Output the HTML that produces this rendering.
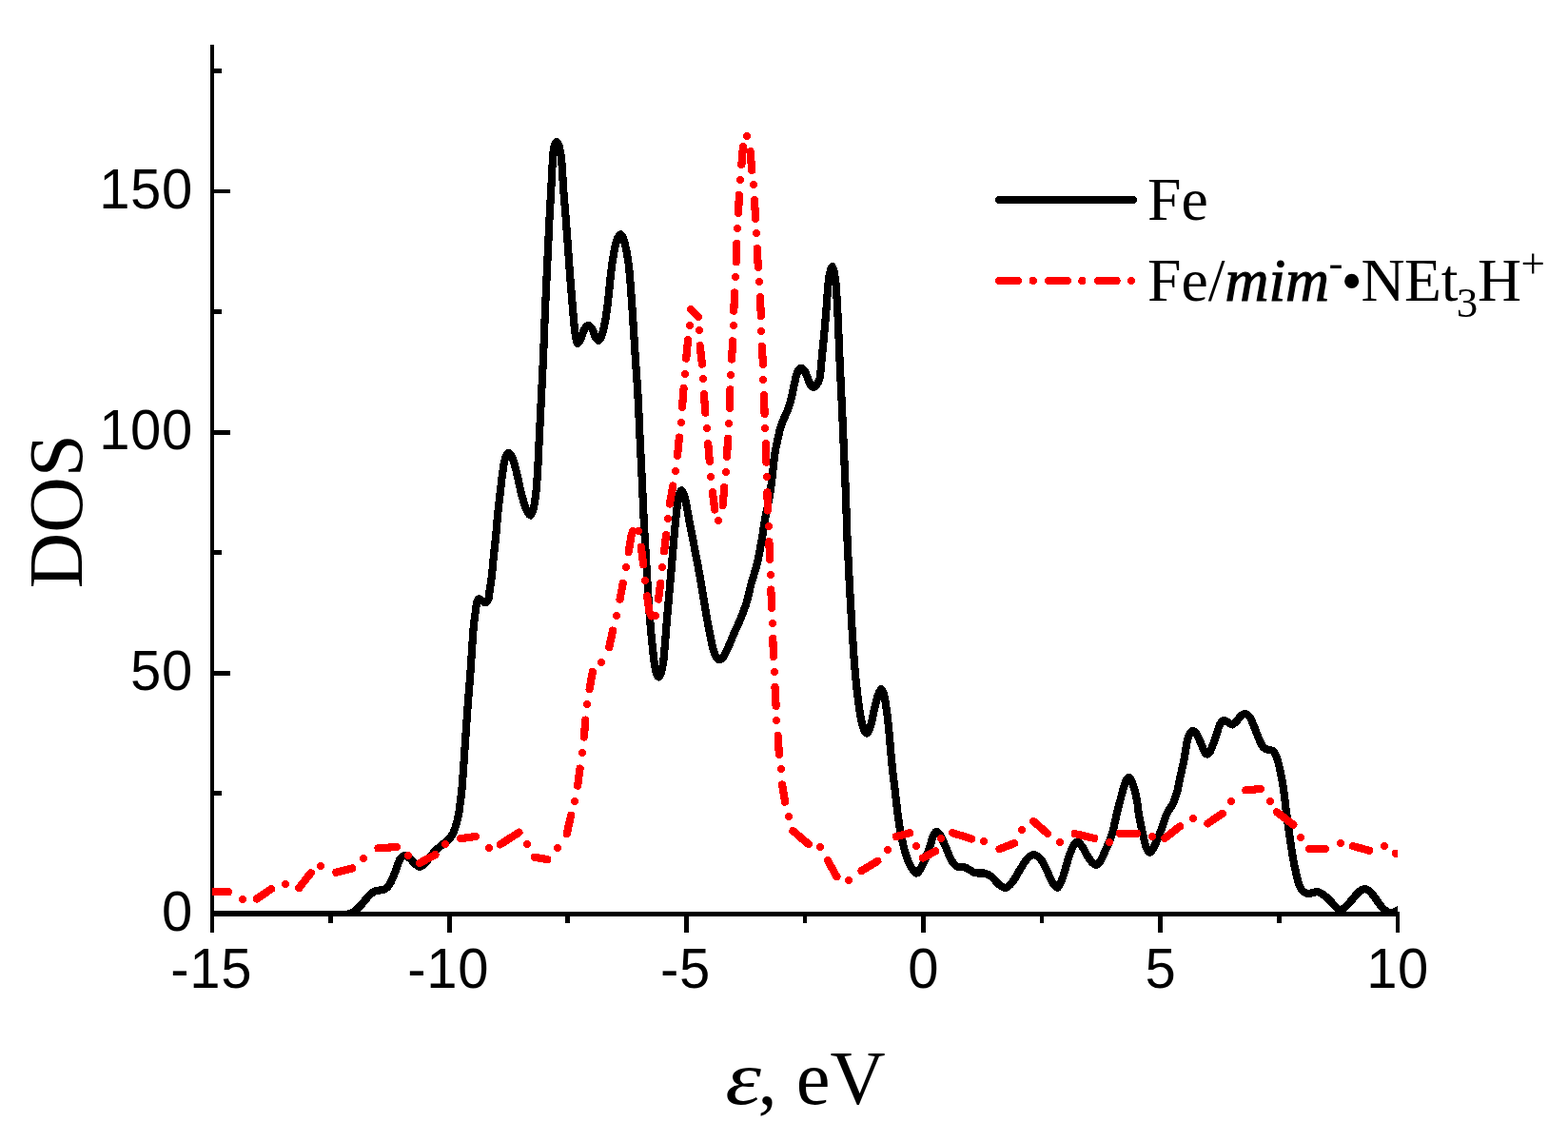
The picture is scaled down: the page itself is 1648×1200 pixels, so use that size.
<!DOCTYPE html>
<html lang="en"><head><meta charset="utf-8"><title>DOS</title>
<style>html,body{margin:0;padding:0;background:#fff}svg{display:block}.t{font-family:"Liberation Sans",Arial,sans-serif;font-size:58px;letter-spacing:0.7px;fill:#000}.s{font-family:"Liberation Serif","Times New Roman",serif;fill:#000}</style></head><body>
<svg width="1648" height="1200" viewBox="0 0 1648 1200">
<rect width="1648" height="1200" fill="#fff"/>
<defs><clipPath id="c"><rect x="223.1" y="40" width="1245.9" height="923"/></clipPath></defs>
<g fill="#000" shape-rendering="crispEdges"><rect x="221" y="46.8" width="4" height="933"/><rect x="221" y="957.8" width="1250" height="5.1"/><rect x="469.8" y="960" width="4.7" height="19.8"/><rect x="718.9" y="960" width="4.7" height="19.8"/><rect x="968.0" y="960" width="4.7" height="19.8"/><rect x="1217.2" y="960" width="4.7" height="19.8"/><rect x="1467.1" y="960" width="3.9" height="19.8"/><rect x="345.2" y="960" width="4.7" height="9.8"/><rect x="594.3" y="960" width="4.7" height="9.8"/><rect x="843.5" y="960" width="4.7" height="9.8"/><rect x="1092.6" y="960" width="4.7" height="9.8"/><rect x="1341.8" y="960" width="4.7" height="9.8"/><rect x="223" y="704.8" width="18.8" height="4.8"/><rect x="223" y="451.7" width="18.8" height="4.8"/><rect x="223" y="198.6" width="18.8" height="4.8"/><rect x="223" y="831.4" width="10" height="4.8"/><rect x="223" y="578.3" width="10" height="4.8"/><rect x="223" y="325.2" width="10" height="4.8"/><rect x="223" y="72.1" width="10" height="4.8"/></g>
<g clip-path="url(#c)" fill="none" stroke-linecap="round" stroke-linejoin="round" shape-rendering="crispEdges">
<path d="M215.00 961.00C243.33 961.00 271.67 961.00 300.00 961.00C319.33 961.00 338.67 961.12 358.00 961.00C360.67 960.98 363.43 961.15 366.00 960.60C368.10 960.15 370.24 959.24 372.00 958.00C374.61 956.17 376.89 953.75 379.10 951.40C382.22 948.08 384.84 944.27 388.00 941.00C389.48 939.47 391.16 937.99 393.00 937.00C394.49 936.19 396.31 935.94 398.00 935.60C399.64 935.27 401.45 935.53 403.00 935.00C404.45 934.50 405.93 933.60 407.00 932.50C408.49 930.97 409.72 929.04 410.70 927.10C412.66 923.21 414.18 919.06 415.80 915.00C417.41 910.96 418.46 906.60 420.40 902.80C421.03 901.56 422.32 900.56 423.50 899.90C424.35 899.43 425.58 899.14 426.50 899.40C428.08 899.84 429.70 900.89 431.00 902.00C432.86 903.59 434.15 905.89 436.00 907.50C437.48 908.79 439.32 910.78 441.00 910.70C442.99 910.61 445.35 908.61 447.00 907.00C449.35 904.71 450.86 901.55 453.00 899.00C454.92 896.71 457.04 894.57 459.20 892.50C461.04 890.74 463.03 889.13 465.00 887.50C467.10 885.76 469.53 884.35 471.40 882.40C473.20 880.52 474.82 878.32 476.00 876.00C477.52 872.99 478.55 869.66 479.50 866.40C480.65 862.43 481.56 858.37 482.30 854.30C483.03 850.27 483.38 846.17 483.90 842.10C484.41 838.07 485.06 834.05 485.40 830.00C486.52 816.68 487.37 803.34 488.30 790.00C489.23 776.67 490.02 763.33 491.00 750.00C492.12 734.79 493.47 719.61 494.60 704.40C495.17 696.74 495.57 689.06 496.10 681.40C496.67 673.30 497.10 665.18 497.90 657.10C498.50 651.01 499.46 644.96 500.30 638.90C500.60 636.76 500.59 634.47 501.30 632.50C501.73 631.31 502.70 629.33 503.70 629.40C505.53 629.53 507.95 633.14 509.80 633.10C511.18 633.07 512.79 630.78 513.40 629.20C514.39 626.65 514.18 623.53 514.60 620.70C515.21 616.63 516.02 612.59 516.50 608.50C517.45 600.45 518.07 592.36 518.90 584.30C519.67 576.86 520.57 569.44 521.30 562.00C521.97 555.14 522.41 548.26 523.10 541.40C523.91 533.29 524.85 525.19 525.80 517.10C526.75 508.99 527.56 500.86 528.80 492.80C529.46 488.49 530.09 484.02 531.50 480.00C532.03 478.49 533.54 476.20 534.60 476.20C535.70 476.20 537.31 478.48 538.00 480.00C539.81 484.01 540.98 488.47 542.10 492.80C544.18 500.83 545.52 509.06 547.60 517.10C549.16 523.13 550.65 529.30 553.00 535.00C554.02 537.47 556.45 541.91 557.70 541.60C559.12 541.25 560.31 535.97 561.00 533.00C562.21 527.81 562.84 522.43 563.40 517.10C564.24 509.03 564.70 500.91 565.20 492.80C565.70 484.71 566.00 476.60 566.40 468.50C566.80 460.43 567.20 452.37 567.60 444.30C568.00 436.20 568.39 428.10 568.80 420.00C569.56 404.80 570.43 389.60 571.10 374.40C571.80 358.64 572.23 342.86 572.90 327.10C573.59 310.90 574.44 294.70 575.20 278.50C575.94 262.90 576.61 247.30 577.40 231.70C577.98 220.36 578.67 209.03 579.30 197.70C579.84 187.97 580.20 178.22 580.90 168.50C581.24 163.82 581.42 159.03 582.40 154.50C582.82 152.53 584.19 149.00 585.10 149.00C586.02 149.00 587.38 152.53 587.90 154.50C589.08 159.03 589.74 163.80 590.20 168.50C591.14 178.20 591.38 187.97 592.10 197.70C592.94 209.04 594.03 220.36 594.90 231.70C596.10 247.30 597.11 262.90 598.30 278.50C599.54 294.70 600.80 310.91 602.20 327.10C602.86 334.74 603.46 342.41 604.50 350.00C604.99 353.61 605.53 359.09 606.80 360.70C607.37 361.42 609.27 358.44 610.00 357.00C611.67 353.70 612.22 349.72 614.00 346.50C614.99 344.72 616.83 342.09 618.30 342.00C619.67 341.92 621.51 344.39 622.50 346.00C624.07 348.55 624.50 351.89 626.00 354.50C626.74 355.79 628.34 358.13 629.20 357.70C630.67 356.97 632.32 353.45 633.00 351.00C635.15 343.25 636.57 335.13 637.70 327.10C639.97 310.97 641.01 294.65 643.20 278.50C644.27 270.61 645.37 262.59 647.50 255.00C648.40 251.79 650.78 246.10 652.30 246.10C653.78 246.10 655.67 251.85 656.50 255.00C658.51 262.65 659.90 270.60 660.80 278.50C662.63 294.63 663.53 310.89 664.70 327.10C665.83 342.86 666.67 358.64 667.70 374.40C668.57 387.74 669.64 401.06 670.40 414.40C671.24 429.09 671.79 443.80 672.50 458.50C673.29 474.70 674.12 490.90 674.90 507.10C675.66 522.87 676.27 538.64 677.10 554.40C677.87 569.10 678.80 583.80 679.70 598.50C680.70 614.70 681.50 630.92 682.80 647.10C684.07 662.89 685.56 678.68 687.40 694.40C687.90 698.64 688.63 702.93 689.80 707.00C690.27 708.63 691.47 711.50 692.30 711.50C693.13 711.50 694.32 708.63 694.80 707.00C695.99 702.93 696.84 698.65 697.30 694.40C699.01 678.69 699.94 662.86 701.30 647.10C702.70 630.90 704.18 614.70 705.60 598.50C707.02 582.33 708.20 566.15 709.80 550.00C710.66 541.31 711.37 532.52 713.00 524.00C713.60 520.86 715.33 515.00 716.50 515.00C717.67 515.00 719.26 520.88 720.00 524.00C722.19 533.21 723.51 542.67 725.30 552.00C728.28 567.50 731.47 582.97 734.30 598.50C737.24 614.67 739.81 630.90 742.60 647.10C743.34 651.40 744.05 655.72 744.90 660.00C746.35 667.35 747.66 674.75 749.50 682.00C750.20 684.75 751.04 687.67 752.50 690.00C753.40 691.44 755.26 693.30 756.60 693.30C757.86 693.30 759.34 691.31 760.30 690.00C761.74 688.05 762.72 685.71 763.80 683.50C765.09 680.88 766.25 678.19 767.40 675.50C768.82 672.19 770.07 668.81 771.50 665.50C773.10 661.81 774.91 658.20 776.50 654.50C778.31 650.27 780.10 646.01 781.70 641.70C783.13 637.85 784.50 633.96 785.60 630.00C787.04 624.82 787.90 619.49 789.30 614.30C791.24 607.09 793.84 600.05 795.60 592.80C797.54 584.78 798.94 576.63 800.40 568.50C801.84 560.46 802.85 552.34 804.30 544.30C805.65 536.84 807.53 529.47 808.80 522.00C809.96 515.17 810.76 508.28 811.60 501.40C812.59 493.31 813.17 485.16 814.30 477.10C814.87 473.03 815.82 469.02 816.70 465.00C817.95 459.32 819.05 453.57 820.70 448.00C821.69 444.67 823.26 441.52 824.60 438.30C825.96 435.02 827.64 431.85 828.80 428.50C830.17 424.55 831.21 420.47 832.20 416.40C833.17 412.40 833.79 408.32 834.70 404.30C835.62 400.22 836.41 396.05 837.70 392.10C838.18 390.62 838.95 389.03 840.00 388.00C840.71 387.30 842.19 386.56 843.00 386.90C844.19 387.40 845.26 389.14 846.00 390.50C847.32 392.91 848.11 395.65 849.20 398.20C850.11 400.31 850.73 402.67 852.00 404.50C852.76 405.60 854.25 407.08 855.30 407.00C856.41 406.91 857.68 405.18 858.50 404.00C859.71 402.25 860.97 400.29 861.40 398.20C862.61 392.29 862.79 386.07 863.40 380.00C864.83 365.71 866.25 351.41 867.50 337.10C868.58 324.74 869.28 312.35 870.40 300.00C870.78 295.82 871.16 291.60 872.00 287.50C872.53 284.93 873.67 280.00 874.50 280.00C875.33 280.00 876.46 284.93 877.00 287.50C877.86 291.60 878.38 295.81 878.70 300.00C879.65 312.34 880.20 324.73 880.80 337.10C881.53 352.06 882.01 367.04 882.70 382.00C883.41 397.50 884.28 413.00 885.00 428.50C885.75 444.70 886.41 460.90 887.10 477.10C887.74 492.07 888.43 507.03 889.00 522.00C889.59 537.50 889.95 553.00 890.60 568.50C891.28 584.70 892.13 600.90 893.00 617.10C893.80 632.07 894.62 647.04 895.60 662.00C896.62 677.51 897.58 693.03 899.00 708.50C900.12 720.69 901.45 732.89 903.20 745.00C904.12 751.39 905.13 757.90 907.00 764.00C907.76 766.47 909.83 770.86 911.10 770.70C912.50 770.53 914.16 765.73 915.00 763.00C916.79 757.16 917.55 750.97 919.00 745.00C920.22 739.97 921.30 734.85 923.00 730.00C923.74 727.89 925.34 723.81 926.30 724.10C927.51 724.47 928.92 729.23 929.50 732.00C931.22 740.23 932.26 748.70 933.20 757.10C934.96 772.83 936.00 788.65 937.60 804.40C938.47 812.95 939.57 821.47 940.60 830.00C942.07 842.14 943.23 854.33 945.10 866.40C946.36 874.56 947.91 882.72 950.00 890.70C951.54 896.59 953.36 902.57 956.00 908.00C957.72 911.54 960.76 917.60 963.10 917.60C965.42 917.60 968.20 911.48 970.00 908.00C972.84 902.51 974.86 896.54 977.00 890.70C978.53 886.54 979.25 882.01 981.00 878.00C981.68 876.44 983.12 874.08 984.30 874.00C985.46 873.92 987.14 876.06 988.00 877.50C990.47 881.63 992.29 886.26 994.30 890.70C996.29 895.09 997.58 899.90 1000.00 904.00C1001.48 906.50 1003.58 909.20 1006.00 910.50C1007.92 911.53 1010.78 910.40 1013.00 911.00C1015.12 911.57 1017.01 912.97 1019.00 914.00C1021.01 915.04 1022.84 916.70 1025.00 917.20C1028.18 917.93 1031.80 916.99 1035.00 917.70C1037.47 918.25 1040.01 919.43 1042.00 921.00C1045.01 923.37 1047.00 927.12 1050.00 929.50C1051.97 931.06 1054.78 933.18 1056.90 932.80C1059.44 932.35 1062.11 929.35 1064.00 927.00C1067.14 923.08 1069.26 918.28 1072.00 914.00C1074.59 909.95 1076.75 905.35 1080.00 902.00C1081.82 900.12 1084.89 898.14 1087.20 898.30C1089.56 898.47 1092.30 900.92 1094.00 903.00C1096.57 906.15 1098.13 910.27 1100.00 914.00C1102.13 918.27 1103.54 922.98 1106.00 927.00C1107.37 929.25 1110.04 933.46 1111.50 932.80C1113.71 931.80 1115.59 925.77 1117.00 922.00C1119.33 915.77 1120.59 909.13 1122.70 902.80C1124.26 898.13 1125.77 893.32 1128.00 889.00C1128.94 887.18 1130.75 884.40 1132.20 884.40C1133.75 884.40 1135.72 887.21 1137.00 889.00C1139.32 892.25 1140.86 896.09 1143.00 899.50C1144.52 901.92 1146.03 904.51 1148.00 906.50C1149.10 907.61 1150.96 909.14 1152.20 908.80C1153.96 908.31 1155.82 905.89 1157.00 904.00C1159.09 900.63 1160.38 896.69 1162.00 893.00C1164.11 888.19 1166.65 883.50 1168.20 878.50C1170.65 870.60 1171.99 862.35 1174.00 854.30C1176.03 846.18 1178.04 838.05 1180.30 830.00C1181.20 826.78 1182.09 823.47 1183.50 820.50C1184.13 819.17 1185.45 817.02 1186.40 817.10C1187.45 817.19 1188.80 819.52 1189.50 821.00C1190.83 823.82 1191.72 826.94 1192.50 830.00C1193.72 834.74 1194.67 839.57 1195.50 844.40C1196.07 847.67 1196.12 851.03 1196.70 854.30C1198.15 862.40 1199.79 870.48 1201.60 878.50C1202.55 882.71 1203.41 887.06 1205.00 891.00C1205.74 892.83 1207.41 895.88 1208.60 895.80C1209.91 895.71 1211.46 892.42 1212.50 890.50C1214.59 886.65 1216.38 882.59 1218.00 878.50C1221.15 870.52 1223.40 862.14 1226.80 854.30C1228.33 850.77 1231.23 847.90 1232.80 844.40C1234.86 839.80 1236.30 834.86 1237.70 830.00C1238.50 827.20 1238.79 824.26 1239.40 821.40C1241.13 813.29 1243.11 805.23 1244.70 797.10C1245.88 791.07 1246.37 784.88 1247.70 778.90C1248.30 776.18 1249.13 773.33 1250.50 771.00C1251.27 769.70 1252.96 767.85 1254.10 768.00C1255.46 768.18 1257.06 770.42 1258.00 772.00C1260.03 775.42 1261.36 779.32 1263.00 783.00C1264.03 785.32 1264.69 787.89 1266.00 790.00C1266.66 791.06 1267.96 792.58 1268.90 792.50C1269.96 792.41 1271.39 790.78 1272.00 789.50C1274.52 784.21 1276.30 778.40 1278.30 772.80C1279.63 769.07 1280.31 765.01 1282.00 761.50C1282.85 759.74 1284.36 757.58 1285.90 757.00C1287.03 756.58 1288.70 757.86 1290.00 758.50C1291.73 759.36 1293.41 761.66 1295.00 761.50C1296.74 761.33 1298.50 759.00 1300.00 757.50C1301.67 755.83 1302.72 753.46 1304.50 752.00C1305.72 751.00 1307.61 749.87 1309.00 750.10C1310.61 750.37 1312.44 752.01 1313.50 753.50C1315.27 755.98 1316.28 759.12 1317.50 762.00C1319.01 765.55 1320.22 769.23 1321.70 772.80C1323.05 776.07 1324.28 779.45 1326.00 782.50C1326.91 784.11 1328.12 785.82 1329.60 786.80C1330.79 787.59 1332.55 787.39 1334.00 787.80C1335.39 788.19 1337.12 788.26 1338.10 789.20C1339.62 790.66 1340.74 792.91 1341.50 795.00C1343.17 799.58 1344.36 804.41 1345.40 809.20C1346.89 816.07 1348.07 823.04 1349.10 830.00C1350.30 838.07 1351.03 846.21 1352.10 854.30C1353.17 862.38 1354.32 870.44 1355.50 878.50C1356.69 886.61 1357.69 894.75 1359.20 902.80C1360.73 910.95 1362.34 919.16 1364.60 927.10C1365.44 930.06 1366.68 933.15 1368.50 935.50C1369.72 937.08 1371.82 938.40 1373.70 938.90C1375.32 939.33 1377.24 938.57 1379.00 938.30C1380.91 938.00 1382.86 937.00 1384.70 937.20C1386.53 937.40 1388.42 938.44 1390.00 939.50C1392.45 941.14 1394.66 943.24 1396.80 945.30C1398.99 947.41 1400.78 949.94 1403.00 952.00C1404.61 953.50 1406.44 955.83 1408.30 956.00C1410.11 956.16 1412.37 954.35 1414.00 953.00C1416.60 950.85 1418.71 948.04 1421.00 945.50C1423.37 942.87 1425.34 939.76 1428.00 937.50C1429.81 935.96 1432.26 934.19 1434.40 934.10C1436.26 934.02 1438.50 935.59 1440.00 937.00C1442.70 939.55 1444.67 943.00 1447.00 946.00C1449.33 949.00 1451.34 952.36 1454.00 955.00C1455.64 956.63 1457.78 958.12 1459.90 958.80C1461.44 959.29 1463.38 958.91 1465.00 958.50C1466.42 958.14 1467.69 957.22 1469.00 956.50C1471.03 955.38 1473.00 954.17 1475.00 953.00" stroke="#000" stroke-width="8.20"/>
<path d="M219.1 936.7L225.0 936.9L239.8 937.3M269.9 944.4L285.2 934.1M314.2 933.2L326.7 917.2M353.3 916.6L370.2 912.5M397.5 891.4L416.9 890.0M441.0 906.9L457.4 898.1M484.2 881.1L500.0 879.0M525.8 887.3L545.5 874.7M562.0 900.8L575.1 903.1M595.8 876.0L600.1 856.8M607.1 825.7L609.5 807.6M613.8 774.5L615.4 756.6M619.6 724.2L622.8 706.1M640.3 680.1L644.0 662.6M651.5 629.7L654.8 612.9M660.7 580.0L663.6 562.0L665.0 558.3M673.9 574.7L676.2 593.2M680.1 626.3L682.6 643.5L684.6 647.4M692.1 629.6L694.2 613.0M698.1 579.3L700.1 562.0M703.9 529.5L707.3 510.5M712.1 478.7L713.9 459.6M717.0 427.7L718.6 408.2M721.2 376.6L723.1 357.2M726.2 325.2L733.9 332.7M735.7 363.3L737.9 382.6M739.9 414.3L741.4 433.6M744.2 466.3L745.8 484.8M748.9 517.3L751.3 535.5M759.6 530.9L761.3 512.2M764.0 479.7L765.1 460.8M767.0 428.7L767.4 409.4M769.0 377.6L770.2 358.4M771.3 326.6L772.1 307.5M773.8 275.4L774.1 255.9M776.1 223.8L776.9 204.9M779.4 172.8L781.0 154.0M788.6 159.2L790.2 178.9M793.0 210.2L794.1 229.8M795.8 261.1L796.8 280.8M798.8 312.3L799.9 332.0M800.9 364.0L801.9 382.9M803.0 415.0L803.6 434.8M805.0 466.0L805.4 485.7M806.5 517.3L806.8 536.5M808.4 569.2L809.0 587.7M810.3 619.6L811.2 638.7M812.3 671.1L813.0 690.1M814.5 722.1L815.6 741.8M817.6 773.1L818.9 792.8M822.2 824.5L825.0 842.6M833.5 873.1L849.8 887.1M870.0 904.3L879.4 921.2M905.5 915.0L922.3 904.9M942.0 879.0L956.0 875.3M970.0 901.5L983.1 894.4M1001.2 875.2L1021.1 881.5M1050.6 892.2L1066.1 886.1M1086.3 863.0L1100.8 875.8M1129.8 876.1L1150.2 880.9M1176.9 875.8L1194.8 875.8M1224.3 880.8L1240.0 868.4M1269.4 865.3L1284.7 854.8M1309.4 830.4L1324.7 829.0M1342.1 853.4L1359.3 866.6M1376.3 891.9L1392.9 891.9M1422.0 889.1L1439.2 893.8M1466.9 896.7L1481.1 900.9" stroke="#f00" stroke-width="8.20"/>
<g fill="#f00" stroke="none"><circle cx="255" cy="945" r="4.15"/><circle cx="300" cy="929" r="4.15"/><circle cx="337" cy="910" r="4.15"/><circle cx="382" cy="902" r="4.15"/><circle cx="429" cy="899" r="4.15"/><circle cx="468" cy="887" r="4.15"/><circle cx="514" cy="891" r="4.15"/><circle cx="554" cy="887" r="4.15"/><circle cx="586" cy="891" r="4.15"/><circle cx="604" cy="842" r="4.15"/><circle cx="612" cy="791" r="4.15"/><circle cx="617" cy="740" r="4.15"/><circle cx="632" cy="696" r="4.15"/><circle cx="648" cy="647" r="4.15"/><circle cx="658" cy="596" r="4.15"/><circle cx="671" cy="558" r="4.15"/><circle cx="678" cy="610" r="4.15"/><circle cx="689" cy="647" r="4.15"/><circle cx="696" cy="596" r="4.15"/><circle cx="702" cy="545" r="4.15"/><circle cx="710" cy="495" r="4.15"/><circle cx="716" cy="444" r="4.15"/><circle cx="720" cy="393" r="4.15"/><circle cx="725" cy="342" r="4.15"/><circle cx="735" cy="347" r="4.15"/><circle cx="739" cy="398" r="4.15"/><circle cx="743" cy="450" r="4.15"/><circle cx="747" cy="501" r="4.15"/><circle cx="755" cy="547" r="4.15"/><circle cx="763" cy="496" r="4.15"/><circle cx="766" cy="445" r="4.15"/><circle cx="768" cy="394" r="4.15"/><circle cx="771" cy="342" r="4.15"/><circle cx="773" cy="291" r="4.15"/><circle cx="775" cy="240" r="4.15"/><circle cx="778" cy="189" r="4.15"/><circle cx="785" cy="143" r="4.15"/><circle cx="792" cy="194" r="4.15"/><circle cx="795" cy="245" r="4.15"/><circle cx="798" cy="296" r="4.15"/><circle cx="800" cy="348" r="4.15"/><circle cx="802" cy="399" r="4.15"/><circle cx="804" cy="450" r="4.15"/><circle cx="806" cy="501" r="4.15"/><circle cx="808" cy="553" r="4.15"/><circle cx="810" cy="604" r="4.15"/><circle cx="812" cy="655" r="4.15"/><circle cx="814" cy="706" r="4.15"/><circle cx="816" cy="757" r="4.15"/><circle cx="821" cy="808" r="4.15"/><circle cx="829" cy="858" r="4.15"/><circle cx="862" cy="890" r="4.15"/><circle cx="892" cy="925" r="4.15"/><circle cx="933" cy="893" r="4.15"/><circle cx="963" cy="889" r="4.15"/><circle cx="989" cy="881" r="4.15"/><circle cx="1034" cy="884" r="4.15"/><circle cx="1074" cy="872" r="4.15"/><circle cx="1114" cy="885" r="4.15"/><circle cx="1166" cy="885" r="4.15"/><circle cx="1211" cy="879" r="4.15"/><circle cx="1254" cy="860" r="4.15"/><circle cx="1294" cy="842" r="4.15"/><circle cx="1335" cy="842" r="4.15"/><circle cx="1367" cy="880" r="4.15"/><circle cx="1409" cy="886" r="4.15"/><circle cx="1455" cy="889" r="4.15"/></g>
</g>
<text class="t" transform="translate(203,978.1) scale(1,1.022)" text-anchor="end">0</text>
<text class="t" transform="translate(203,725.0) scale(1,1.022)" text-anchor="end">50</text>
<text class="t" transform="translate(203,471.9) scale(1,1.022)" text-anchor="end">100</text>
<text class="t" transform="translate(203,218.8) scale(1,1.022)" text-anchor="end">150</text>
<text class="t" transform="translate(222.2,1037.7) scale(1,1.022)" text-anchor="middle">-15</text>
<text class="t" transform="translate(471.3,1037.7) scale(1,1.022)" text-anchor="middle">-10</text>
<text class="t" transform="translate(720.5,1037.7) scale(1,1.022)" text-anchor="middle">-5</text>
<text class="t" transform="translate(970.8,1037.7) scale(1,1.022)" text-anchor="middle">0</text>
<text class="t" transform="translate(1220.0,1037.7) scale(1,1.022)" text-anchor="middle">5</text>
<text class="t" transform="translate(1469.1,1037.7) scale(1,1.022)" text-anchor="middle">10</text>
<text class="s" font-size="81" transform="translate(86,537.3) rotate(-90)" text-anchor="middle">DOS</text>
<text class="s" font-size="80.5" font-style="italic" transform="translate(762.2,1159.8) scale(1.19,1)">ε</text>
<text class="s" font-size="80.5" x="796.6" y="1159.8">, eV</text>
<g fill="none" stroke-linecap="round" shape-rendering="crispEdges"><path d="M1050 210H1191" stroke="#000" stroke-width="8.3"/><path d="M1050 295h20.2M1101.8 295h20.2M1154.1 295h19.4" stroke="#f00" stroke-width="8.3"/><g fill="#f00" stroke="none"><circle cx="1085.9" cy="295" r="4.1"/><circle cx="1137.4" cy="295" r="4.1"/><circle cx="1189" cy="295" r="4.1"/></g></g>
<text class="s" font-size="63.7" x="1206" y="231.2">Fe</text>
<text class="s" font-size="63.7" y="316.2"><tspan x="1206">Fe/</tspan><tspan x="1287.4" font-style="italic" stroke="#000" stroke-width="1.1">mim</tspan><tspan x="1396.6" y="291.3" font-size="45">-</tspan><tspan x="1409.5" y="316.2">•</tspan><tspan x="1430.6">N</tspan><tspan x="1476">E</tspan><tspan x="1514.8">t</tspan><tspan x="1530.8" y="333.4" font-size="45">3</tspan><tspan x="1553" y="316.2">H</tspan><tspan x="1598.4" y="291.5" font-size="45">+</tspan></text>
</svg></body></html>
